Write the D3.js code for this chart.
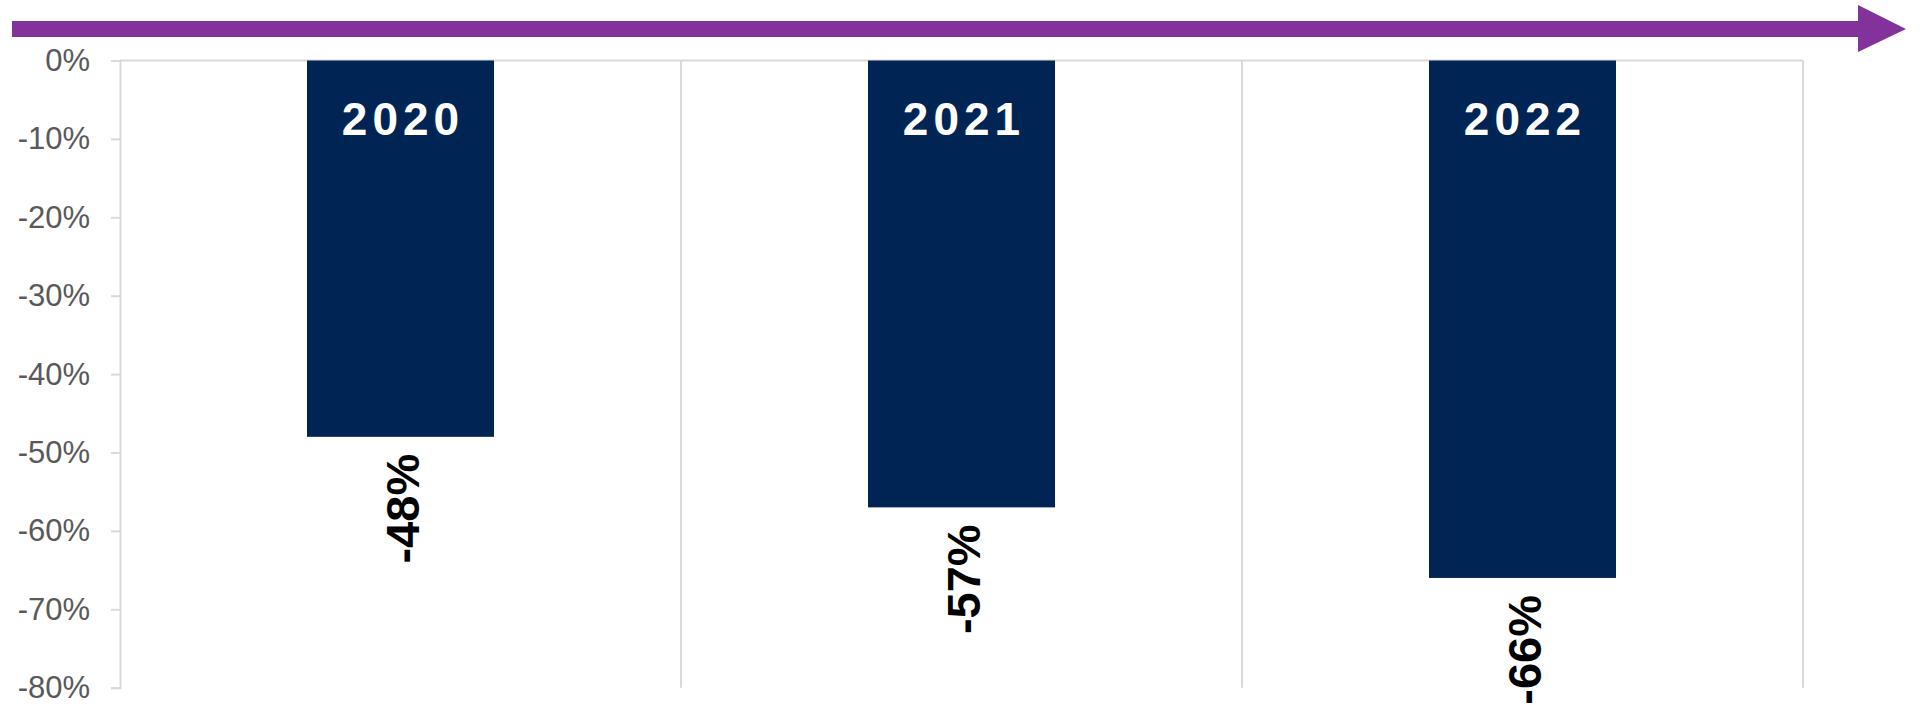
<!DOCTYPE html>
<html>
<head>
<meta charset="utf-8">
<script src="https://cdn.jsdelivr.net/npm/d3@7"></script>
<style>
  body { margin: 0; background: #fff; }
  text { font-family: Arial, "Liberation Sans", sans-serif; }
</style>
</head>
<body>
<div id="chart"></div>
<script>
var years = ["2020", "2021", "2022"];
var changes = [-48, -57, -66];
var yTicks = [0, -10, -20, -30, -40, -50, -60, -70, -80];

var w = 1921;
var h = 705;

var plotLeft = 120, plotRight = 1803, plotTop = 60.5, plotBottom = 687.7;

var svg = d3.select("#chart")
            .append("svg")
            .attr("width", w)
            .attr("height", h);

var xScale = d3.scaleBand()
               .domain(years)
               .range([plotLeft, plotRight])
               .paddingInner(2 / 3)
               .paddingOuter(1 / 3);

var yScale = d3.scaleLinear()
               .domain([0, -80])
               .range([plotTop, plotBottom]);

// category separators
var step = xScale.step();
var seps = d3.range(years.length).map(function(i) { return plotLeft + step * (i + 1); });
svg.selectAll("line.sep")
   .data(seps)
   .enter()
   .append("line")
   .attr("class", "sep")
   .attr("x1", function(d) { return d; })
   .attr("x2", function(d) { return d; })
   .attr("y1", plotTop)
   .attr("y2", plotBottom)
   .attr("stroke", "#d9d9d9")
   .attr("stroke-width", 2);

// zero line
svg.append("line")
   .attr("x1", plotLeft)
   .attr("x2", plotRight)
   .attr("y1", yScale(0))
   .attr("y2", yScale(0))
   .attr("stroke", "#d9d9d9")
   .attr("stroke-width", 2);

var yAxis = d3.axisLeft(yScale)
              .tickValues(yTicks)
              .tickSize(9)
              .tickPadding(21)
              .tickFormat(function(d) { return d + "%"; });

var gy = svg.append("g")
   .attr("transform", "translate(" + plotLeft + ",0)")
   .call(yAxis);

gy.select(".domain").attr("stroke", "#d9d9d9").attr("stroke-width", 2);
gy.selectAll(".tick line").attr("stroke", "#d9d9d9").attr("stroke-width", 2);
gy.selectAll(".tick text")
  .attr("fill", "#595959")
  .attr("font-size", "31px")
  .attr("font-family", "Arial, 'Liberation Sans', sans-serif");

// bars
svg.selectAll("rect.bar")
   .data(changes)
   .enter()
   .append("rect")
   .attr("class", "bar")
   .attr("x", function(d, i) { return xScale(years[i]); })
   .attr("y", yScale(0))
   .attr("width", xScale.bandwidth())
   .attr("height", function(d) { return yScale(d) - yScale(0); })
   .attr("fill", "#002453");

// year labels inside bars
svg.selectAll("text.year")
   .data(years)
   .enter()
   .append("text")
   .attr("class", "year")
   .attr("x", function(d) { return xScale(d) + xScale.bandwidth() / 2 + 2.5; })
   .attr("y", 134.5)
   .attr("text-anchor", "middle")
   .attr("fill", "#fff")
   .attr("font-size", "46px")
   .attr("font-weight", "bold")
   .attr("letter-spacing", "5px")
   .text(function(d) { return d; });

// value labels under bars, rotated
svg.selectAll("text.val")
   .data(changes)
   .enter()
   .append("text")
   .attr("class", "val")
   .attr("transform", function(d, i) {
     var cx = xScale(years[i]) + xScale.bandwidth() / 2 + 18;
     var cy = yScale(d) + 17;
     return "translate(" + cx + "," + cy + ") rotate(-90)";
   })
   .attr("text-anchor", "end")
   .attr("fill", "#000")
   .attr("font-size", "47px")
   .attr("font-weight", "bold")
   .text(function(d) { return d + "%"; });

// purple arrow on top
svg.append("rect")
   .attr("x", 12)
   .attr("y", 21)
   .attr("width", 1860 - 12)
   .attr("height", 16)
   .attr("fill", "#84329b");

svg.append("path")
   .attr("d", "M1858,5 L1906,29 L1858,52 Z")
   .attr("fill", "#84329b");
</script>
</body>
</html>
